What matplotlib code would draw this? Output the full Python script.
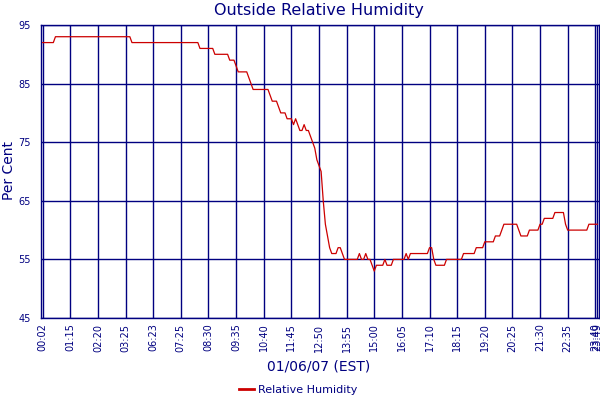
import matplotlib
matplotlib.use("Agg")
import matplotlib.pyplot as plt

# --- Data: one reading every sample, rows of 13 samples (one tick interval) ---
humidity = [
    92, 92, 92, 92, 92, 92, 93, 93, 93, 93, 93, 93, 93,
    93, 93, 93, 93, 93, 93, 93, 93, 93, 93, 93, 93, 93,
    93, 93, 93, 93, 93, 93, 93, 93, 93, 93, 93, 93, 93,
    93, 93, 93, 92, 92, 92, 92, 92, 92, 92, 92, 92, 92,
    92, 92, 92, 92, 92, 92, 92, 92, 92, 92, 92, 92, 92,
    92, 92, 92, 92, 92, 92, 92, 92, 92, 91, 91, 91, 91,
    91, 91, 91, 90, 90, 90, 90, 90, 90, 90, 89, 89, 89,
    88, 87, 87, 87, 87, 87, 86, 85, 84, 84, 84, 84, 84,
    84, 84, 84, 83, 82, 82, 82, 81, 80, 80, 80, 79, 79,
    79, 78, 79, 78, 77, 77, 78, 77, 77, 76, 75, 74, 72,
    71, 70, 65, 61, 59, 57, 56, 56, 56, 57, 57, 56, 55,
    55, 55, 55, 55, 55, 55, 56, 55, 55, 56, 55, 55, 54,
    53, 54, 54, 54, 54, 55, 54, 54, 54, 55, 55, 55, 55,
    55, 55, 56, 55, 56, 56, 56, 56, 56, 56, 56, 56, 56,
    57, 57, 55, 54, 54, 54, 54, 54, 55, 55, 55, 55, 55,
    55, 55, 55, 56, 56, 56, 56, 56, 56, 57, 57, 57, 57,
    58, 58, 58, 58, 58, 59, 59, 59, 60, 61, 61, 61, 61,
    61, 61, 61, 60, 59, 59, 59, 59, 60, 60, 60, 60, 60,
    61, 61, 62, 62, 62, 62, 62, 63, 63, 63, 63, 63, 61,
    60, 60, 60, 60, 60, 60, 60, 60, 60, 60, 61, 61, 61,
    61, 61,
]
tick_labels = ['00:02', '01:15', '02:20', '03:25', '06:23', '07:25', '08:30',
               '09:35', '10:40', '11:45', '12:50', '13:55', '15:00', '16:05',
               '17:10', '18:15', '19:20', '20:25', '21:30', '22:35', '23:40',
               '23:49']
y_ticks = [45, 55, 65, 75, 85, 95]

navy = '#000080'
red = '#CC0000'
samples_per_tick = 13

plt.rcParams['font.family'] = ['DejaVu Sans']

fig = plt.figure(figsize=(6, 4), dpi=100)
ax = fig.add_axes([40.7 / 600, 82 / 400, 558 / 600, 293 / 400])

x = list(range(len(humidity)))
ax.plot(x, humidity, color=red, lw=0.9, label='Relative Humidity', zorder=3)

tick_pos = [i * samples_per_tick for i in range(len(tick_labels) - 1)] + [len(humidity) - 1]
ax.set_xticks(tick_pos)
ax.set_xticklabels(tick_labels, rotation=90, fontsize=7, color=navy)
ax.set_yticks(y_ticks)
ax.set_yticklabels([str(v) for v in y_ticks], fontsize=7, color=navy)
ax.set_xlim(-0.94, 261.6)
ax.set_ylim(45, 95)
ax.tick_params(length=0, pad=4)
ax.tick_params(axis='y', pad=7)

ax.grid(True, color=navy, lw=1.0)
ax.set_axisbelow(True)
for s in ax.spines.values():
    s.set_color(navy)
    s.set_linewidth(1.0)

# title and x label are centred over the plot area, legend over the figure
mid = 319 / 600
fig.text(mid, 1 - 10 / 400, 'Outside Relative Humidity', ha='center', va='center',
         fontsize=11.5, color=navy)
fig.text(9 / 600, 1 - 171 / 400, 'Per Cent', ha='center', va='center',
         rotation=90, fontsize=10, color=navy)
fig.text(mid, 1 - 367 / 400, '01/06/07 (EST)', ha='center', va='center',
         fontsize=10, color=navy)

leg = fig.legend(loc='center', bbox_to_anchor=(0.497, 1 - 390 / 400), frameon=False,
                 fontsize=8, handlelength=1.3, handletextpad=0.4)
for t in leg.get_texts():
    t.set_color(navy)
for h in leg.get_lines():
    h.set_linewidth(2)

fig.savefig('out.png', dpi=100)
